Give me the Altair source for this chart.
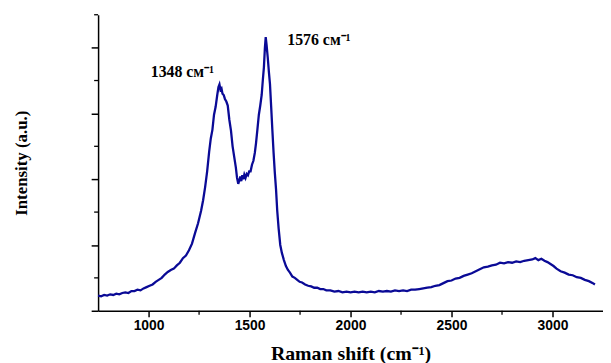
import altair as alt
import pandas as pd

shift = [750, 765, 780, 795, 810, 825, 840, 855, 870, 885, 900, 915, 930, 945, 960, 975, 990,
         1005, 1020, 1035, 1050, 1065, 1080, 1095, 1110, 1125, 1140, 1155, 1170, 1185, 1200,
         1215, 1230, 1245, 1260, 1270, 1280, 1290, 1300, 1308, 1316, 1324, 1332, 1340, 1346,
         1351, 1356, 1361, 1366, 1372, 1378, 1385, 1392, 1400, 1408, 1416, 1424, 1432, 1438,
         1444, 1449, 1454, 1459, 1464, 1469, 1474, 1480, 1486, 1492, 1498, 1505, 1512, 1519,
         1526, 1532, 1539, 1546, 1553, 1560, 1566, 1571, 1576, 1580, 1584, 1590, 1596, 1601,
         1607, 1613, 1619, 1625, 1631, 1637, 1644, 1652, 1660, 1670, 1680, 1690, 1700, 1712,
         1724, 1736, 1748, 1760, 1775, 1790, 1805, 1820, 1835, 1850, 1865, 1880, 1900, 1920,
         1940, 1960, 1980, 2000, 2020, 2040, 2060, 2080, 2100, 2120, 2140, 2160, 2180, 2200,
         2220, 2240, 2260, 2280, 2300, 2320, 2340, 2360, 2380, 2400, 2420, 2440, 2460, 2480,
         2500, 2520, 2540, 2560, 2580, 2600, 2620, 2640, 2660, 2680, 2700, 2720, 2740, 2760,
         2780, 2800, 2820, 2840, 2860, 2880, 2900, 2915, 2930, 2945, 2960, 2975, 2990, 3005,
         3020, 3040, 3060, 3080, 3100, 3120, 3140, 3160, 3180, 3200, 3210]
intensity = [0.23, 0.22, 0.24, 0.23, 0.25, 0.24, 0.26, 0.25, 0.27, 0.28, 0.27, 0.30, 0.30, 0.32, 0.31, 0.34, 0.36,
             0.38, 0.40, 0.44, 0.47, 0.50, 0.55, 0.59, 0.62, 0.64, 0.69, 0.73, 0.80, 0.84, 0.92,
             1.02, 1.18, 1.33, 1.52, 1.68, 1.88, 2.12, 2.42, 2.62, 2.75, 2.98, 3.10, 3.28, 3.40,
             3.44, 3.36, 3.38, 3.30, 3.28, 3.22, 3.18, 3.12, 2.90, 2.74, 2.50, 2.34, 2.18, 2.02,
             1.93, 1.98, 2.04, 1.97, 2.06, 2.00, 2.07, 2.02, 2.08, 2.06, 2.12, 2.12, 2.22, 2.28,
             2.40, 2.55, 2.76, 2.98, 3.12, 3.28, 3.52, 3.70, 4.00, 4.16, 4.05, 3.85, 3.62, 3.45,
             3.10, 2.74, 2.40, 2.10, 1.85, 1.52, 1.25, 1.00, 0.88, 0.77, 0.68, 0.62, 0.58, 0.52,
             0.50, 0.47, 0.44, 0.43, 0.40, 0.38, 0.37, 0.35, 0.35, 0.33, 0.33, 0.31, 0.31, 0.29,
             0.30, 0.28, 0.29, 0.28, 0.29, 0.28, 0.29, 0.28, 0.29, 0.28, 0.30, 0.29, 0.30, 0.29,
             0.31, 0.30, 0.31, 0.30, 0.32, 0.32, 0.33, 0.34, 0.35, 0.36, 0.38, 0.39, 0.42, 0.45,
             0.46, 0.49, 0.50, 0.53, 0.55, 0.57, 0.60, 0.63, 0.66, 0.67, 0.69, 0.70, 0.73, 0.72,
             0.74, 0.73, 0.75, 0.74, 0.76, 0.77, 0.78, 0.80, 0.77, 0.79, 0.76, 0.74, 0.71, 0.68,
             0.64, 0.60, 0.58, 0.55, 0.54, 0.51, 0.50, 0.47, 0.45, 0.42, 0.40]

x_major = [1000, 1500, 2000, 2500, 3000]
x_minor = [1250, 1750, 2250, 2750]
y_major = [0, 1, 2, 3, 4]
y_minor = [0.5, 1.5, 2.5, 3.5, 4.5]

peak_labels = ["1348 см⁻¹", "1576 см⁻¹"]
label_x = [1167, 1843]
label_y = [3.63, 4.12]

df = pd.DataFrame({"shift": shift, "intensity": intensity})
ann = pd.DataFrame({"x": label_x, "y": label_y, "text": peak_labels})
xm = pd.DataFrame({"v": x_minor})
ym = pd.DataFrame({"v": y_minor})

W, H = 510, 299
xscale = alt.Scale(domain=[750, 3250], nice=False, zero=False)
yscale = alt.Scale(domain=[0, 4.5], nice=False, zero=False)

color = "#0a0a96"

main = alt.Chart(df).mark_line(color=color, strokeWidth=2.3).encode(
    x=alt.X("shift:Q", scale=xscale,
            axis=alt.Axis(values=x_major, title="Raman shift (cm⁻¹)", orient="bottom",
                          format="d",
                          titleFont="Liberation Serif", titleFontSize=20, titleFontWeight="bold",
                          titleColor="black", titlePadding=11,
                          labelFont="Liberation Sans", labelFontSize=14, labelFontWeight="bold",
                          labelColor="black", labelPadding=2,
                          tickSize=6, tickWidth=1.5, tickColor="black",
                          domainColor="black", domainWidth=1.5, grid=False)),
    y=alt.Y("intensity:Q", scale=yscale,
            axis=alt.Axis(values=y_major, title="Intensity (a.u.)", orient="left",
                          labels=False, titleFont="Liberation Serif", titleFontSize=17,
                          titleFontWeight="bold", titleColor="black", titlePadding=61,
                          tickSize=7, tickWidth=1.5, tickColor="black",
                          domainColor="black", domainWidth=1.5, grid=False)),
)

xminor = alt.Chart(xm).mark_rule(color="black", strokeWidth=1.3).encode(
    x=alt.X("v:Q", scale=xscale),
    y=alt.value(H),
    y2=alt.value(H + 4),
)

yminor = alt.Chart(ym).mark_rule(color="black", strokeWidth=1.3).encode(
    y=alt.Y("v:Q", scale=yscale),
    x=alt.value(-4),
    x2=alt.value(0),
)

text = alt.Chart(ann).mark_text(font="Liberation Serif", fontSize=16, fontWeight="bold",
                                color="black", align="center", baseline="middle").encode(
    x=alt.X("x:Q", scale=xscale),
    y=alt.Y("y:Q", scale=yscale),
    text="text:N",
)

chart = alt.layer(main, xminor, yminor, text).properties(
    width=W, height=H,
    autosize=alt.AutoSizeParams(type="none"),
    padding={"left": 91, "top": 5, "right": 0, "bottom": 56},
).configure_view(stroke=None)

chart.save("out.html", embed_options={"renderer": "svg", "actions": False})
